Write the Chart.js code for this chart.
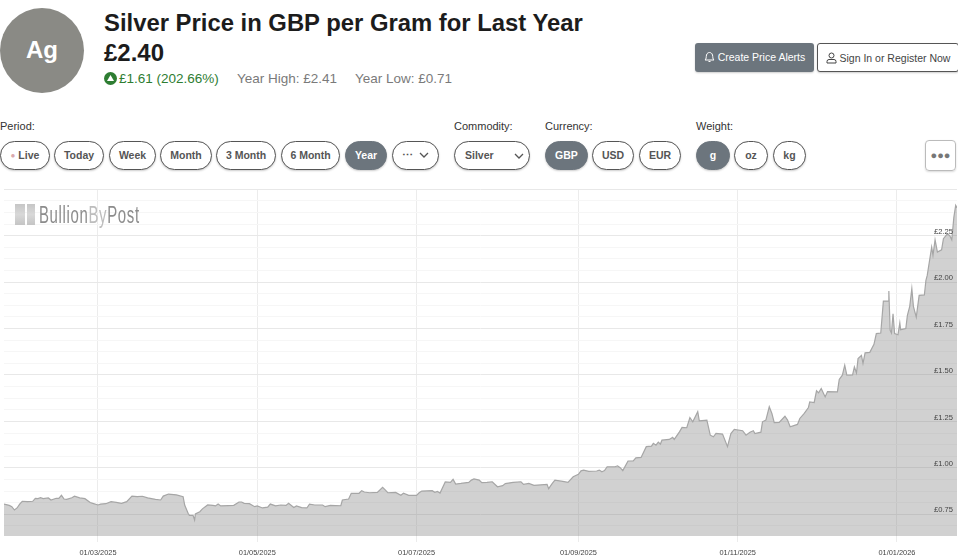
<!DOCTYPE html>
<html>
<head>
<meta charset="utf-8">
<title>Silver Price in GBP per Gram for Last Year</title>
<script src="https://cdn.jsdelivr.net/npm/chart.js@4"></script>
<style>
html, body { margin: 0; padding: 0; background: #fff; }
body { width: 958px; height: 558px; position: relative; overflow: hidden; font-family: "Liberation Sans", Arial, sans-serif; color: #212529; }
.abs { position: absolute; white-space: nowrap; }
#badge { left: 0; top: 8px; width: 84px; height: 85px; border-radius: 50%; background: #8a8a85; color: #fff; font-weight: bold; font-size: 24px; line-height: 84px; text-align: center; }
#title { left: 104px; top: 9px; font-size: 23.85px; font-weight: bold; line-height: 28px; color: #1c1c1c; }
#price { left: 104px; top: 39px; font-size: 24px; font-weight: bold; line-height: 28px; color: #1c1c1c; }
.stat { top: 70px; font-size: 13.5px; line-height: 17px; color: #7a7a7a; }
#change { left: 119px; color: #2e7d32; }
.lbl { top: 120px; font-size: 11px; line-height: 13px; color: #333; }
.pill { top: 141px; height: 27px; line-height: 27px; border: 1px solid #555; border-radius: 15px; box-sizing: content-box; font-size: 10.5px; font-weight: bold; color: #555; text-align: center; background: #fff; box-shadow: 0 1px 2px rgba(0,0,0,.2); }
.pill.on { background: #6c757d; border-color: #6c757d; color: #fff; }
.btn { top: 43px; height: 28px; line-height: 28px; border-radius: 3px; font-size: 10.5px; text-align: center; box-shadow: 0 1px 2px rgba(0,0,0,.2); }
#alerts { left: 695px; width: 119px; background: #6c757d; color: #fff; height: 29px; }
#signin { left: 817px; width: 142px; box-sizing: border-box; height: 29px; border: 1px solid #555; background: #fff; color: #444; }
#dots { left: 925px; top: 140px; width: 29px; height: 29px; border: 1px solid #bbb; border-radius: 4px; color: #777; font-size: 11px; line-height: 29px; text-align: center; font-weight: bold; box-shadow: 0 1px 2px rgba(0,0,0,.15); }
svg { vertical-align: -2px; }
#chartBox { left: 0; top: 185px; width: 958px; height: 373px; }
#mark { left: 39px; top: 201px; font-size: 23px; line-height: 28px; letter-spacing: 1px; color: #8c8c8c; z-index: 2; transform: scaleX(0.65); transform-origin: left center; }
#mark span { color: #bdbdbd; }
.bar { top: 204px; height: 21px; background: linear-gradient(#c6c6c6, #d8d8d8 50%, #c4c4c4); z-index: 2; }
</style>
</head>
<body>
<div class="abs" id="badge">Ag</div>
<div class="abs" id="title">Silver Price in GBP per Gram for Last Year</div>
<div class="abs" id="price">£2.40</div>
<svg class="abs" style="left:104px;top:72px" width="13" height="13" viewBox="0 0 13 13"><circle cx="6.5" cy="6.5" r="6.5" fill="#2e7d32"/><path d="M6.5 3 L10 9 L3 9 Z" fill="#fff"/></svg>
<div class="abs stat" id="change">£1.61 (202.66%)</div>
<div class="abs stat" style="left:237px">Year High: £2.41</div>
<div class="abs stat" style="left:355px">Year Low: £0.71</div>

<div class="abs btn" id="alerts"><svg width="11" height="12" viewBox="0 0 11 12" fill="none" stroke="#fff"><path d="M1 9 C2.5 8 2 6 2.5 4 C3 2 4.5 1.5 5.5 1.5 C6.5 1.5 8 2 8.5 4 C9 6 8.5 8 10 9 Z M4.5 10.5 H6.5"/></svg> Create Price Alerts</div>
<div class="abs btn" id="signin"><svg width="11" height="12" viewBox="0 0 11 12" fill="none" stroke="#444"><circle cx="5.5" cy="3.5" r="2.5"/><path d="M1 11 V9.5 Q1 7.5 3 7.5 H8 Q10 7.5 10 9.5 V11 Z"/></svg> Sign In or Register Now</div>

<div class="abs lbl" style="left:0">Period:</div>
<div class="abs lbl" style="left:454px">Commodity:</div>
<div class="abs lbl" style="left:545px">Currency:</div>
<div class="abs lbl" style="left:696px">Weight:</div>

<div class="abs pill" style="left:0;width:48px"><span style="color:#d9a9ae;font-size:8px;vertical-align:1px">●</span> Live</div>
<div class="abs pill" style="left:54px;width:48px">Today</div>
<div class="abs pill" style="left:109px;width:45px">Week</div>
<div class="abs pill" style="left:160px;width:50px">Month</div>
<div class="abs pill" style="left:216px;width:58px">3 Month</div>
<div class="abs pill" style="left:281px;width:57px">6 Month</div>
<div class="abs pill on" style="left:345px;width:40px">Year</div>
<div class="abs pill" style="left:392px;width:45px">⋯ &nbsp;<svg width="10" height="6" viewBox="0 0 10 6" fill="none" stroke="#555" stroke-width="1.3" style="vertical-align:1px"><path d="M1 1 L5 5 L9 1"/></svg></div>
<div class="abs pill" style="left:454px;width:74px;text-align:left"><span style="margin-left:10px">Silver</span><svg width="10" height="6" viewBox="0 0 10 6" fill="none" stroke="#555" stroke-width="1.3" style="position:absolute;left:59px;top:11px"><path d="M1 1 L5 5 L9 1"/></svg></div>
<div class="abs pill on" style="left:545px;width:41px">GBP</div>
<div class="abs pill" style="left:592px;width:40px">USD</div>
<div class="abs pill" style="left:639px;width:40px">EUR</div>
<div class="abs pill on" style="left:696px;width:32px">g</div>
<div class="abs pill" style="left:734px;width:32px">oz</div>
<div class="abs pill" style="left:773px;width:31px">kg</div>
<div class="abs" id="dots">●●●</div>

<div class="abs bar" style="left:15px;width:10px"></div>
<div class="abs bar" style="left:27px;width:8px"></div>
<div class="abs" id="mark">Bullion<span>By</span>Post</div>

<div class="abs" id="chartBox"><canvas id="priceChart" width="958" height="373"></canvas></div>

<script>
// days since 24/01/2025
const priceDays = [
    0, 2, 3, 4, 5, 6, 7, 9, 11, 12,
    13, 14, 15, 17, 18, 20, 21, 22, 23, 24,
    26, 27, 29, 31, 33, 34, 36, 37, 39, 41,
    43, 45, 47, 49, 51, 53, 55, 58, 60, 61,
    63, 66, 68.6, 69.2, 70.5, 71, 72.4, 73, 73.3, 75,
    76, 78, 80, 81, 82, 83, 86, 88, 90, 91,
    92, 94, 96, 97, 99, 101, 102, 104, 106, 108,
    109, 111, 112, 114, 116, 117, 119, 122, 123, 125,
    129, 129.6, 132, 133, 136, 137, 138, 140, 143, 145,
    146, 147, 150, 152, 153, 155, 158, 159, 160, 164,
    165, 166, 167, 169, 171, 172, 173, 175, 178, 179,
    180, 182, 183, 185, 187, 189, 191, 192, 195, 198,
    199, 201, 203, 208, 208.6, 210, 211, 214, 216, 218,
    220, 221, 222, 224, 227, 228, 229, 230, 231, 234,
    235, 236, 237, 239, 241, 242, 244, 246, 248, 248.7,
    249.7, 250.6, 251.4, 252, 254.8, 256.1, 256.7, 258.7, 259.7, 261.5,
    262.7, 263.8, 265.7, 266.3, 269.2, 270.5, 271.7, 272.7, 275.2, 277.1,
    278.4, 279.7, 282.9, 284.2, 285.7, 287, 287.6, 289.9, 290.5, 291.8,
    293.1, 294.1, 295, 296.9, 299.1, 300.1, 301.1, 303.9, 304.8, 306.5,
    308.1, 308.6, 310.3, 311.2, 312, 313, 314.5, 315.4, 319.2, 319.9,
    321.1, 322, 322.8, 325, 325.7, 326.5, 327.1, 328.4, 329, 329.8,
    331.6, 333.2, 334.1, 335.8, 336.8, 338.6, 338.9, 339.4, 339.9, 340.5,
    341.1, 342.4, 343.1, 343.4, 345.4, 346, 346.9, 347.7, 348.3, 349.4,
    350.5, 352.5, 353.1, 353.6, 354.5, 355.3, 355.8, 356.6, 357.5, 359.1,
    359.8, 361.3, 362.2, 363, 363.8, 364.5, 365
];
const priceValues = [
    0.805, 0.798, 0.791, 0.773, 0.784, 0.805, 0.820, 0.818, 0.820, 0.836,
    0.834, 0.839, 0.834, 0.838, 0.827, 0.836, 0.836, 0.852, 0.832, 0.830,
    0.839, 0.847, 0.838, 0.834, 0.813, 0.809, 0.800, 0.805, 0.807, 0.818,
    0.814, 0.809, 0.818, 0.848, 0.845, 0.847, 0.838, 0.830, 0.827, 0.848,
    0.859, 0.854, 0.845, 0.800, 0.755, 0.744, 0.744, 0.719, 0.752, 0.764,
    0.779, 0.800, 0.798, 0.795, 0.805, 0.795, 0.797, 0.798, 0.816, 0.816,
    0.809, 0.807, 0.791, 0.795, 0.784, 0.788, 0.805, 0.795, 0.800, 0.798,
    0.809, 0.786, 0.795, 0.786, 0.784, 0.805, 0.800, 0.800, 0.791, 0.798,
    0.796, 0.827, 0.832, 0.863, 0.863, 0.877, 0.870, 0.866, 0.868, 0.895,
    0.881, 0.866, 0.868, 0.852, 0.863, 0.852, 0.852, 0.866, 0.875, 0.877,
    0.868, 0.873, 0.864, 0.924, 0.922, 0.938, 0.913, 0.916, 0.922, 0.934,
    0.940, 0.934, 0.920, 0.922, 0.925, 0.898, 0.904, 0.915, 0.922, 0.925,
    0.911, 0.916, 0.906, 0.911, 0.888, 0.916, 0.934, 0.927, 0.922, 0.952,
    0.965, 0.984, 0.988, 0.981, 0.983, 0.988, 0.979, 0.985, 1.006, 1.006,
    1.011, 1.001, 0.985, 1.037, 1.038, 1.054, 1.056, 1.114, 1.117, 1.132,
    1.122, 1.139, 1.128, 1.149, 1.153, 1.164, 1.153, 1.194, 1.218, 1.216,
    1.271, 1.248, 1.302, 1.253, 1.257, 1.176, 1.167, 1.185, 1.182, 1.114,
    1.185, 1.207, 1.200, 1.176, 1.192, 1.200, 1.185, 1.192, 1.248, 1.257,
    1.329, 1.293, 1.244, 1.245, 1.278, 1.257, 1.221, 1.234, 1.266, 1.293,
    1.325, 1.355, 1.352, 1.415, 1.404, 1.427, 1.382, 1.411, 1.409, 1.476,
    1.499, 1.553, 1.499, 1.501, 1.544, 1.511, 1.588, 1.605, 1.562, 1.619,
    1.622, 1.665, 1.723, 1.726, 1.898, 1.898, 1.952, 1.741, 1.726, 1.830,
    1.723, 1.717, 1.780, 1.744, 1.750, 1.821, 1.870, 1.965, 1.870, 1.812,
    1.929, 1.931, 2.010, 2.036, 2.117, 2.189, 2.144, 2.228, 2.162, 2.174,
    2.234, 2.260, 2.251, 2.228, 2.350, 2.413, 2.400
];

const xTickDays = [36, 97, 158, 220, 281, 342];
const xTickLabels = ['01/03/2025', '01/05/2025', '01/07/2025', '01/09/2025', '01/11/2025', '01/01/2026'];
const yMajorTicks = [0.75, 1, 1.25, 1.5, 1.75, 2, 2.25, 2.5];
const yMinorTicks = [0.6875, 0.8125, 0.875, 0.9375, 1.0625, 1.125, 1.1875, 1.3125, 1.375, 1.4375, 1.5625, 1.625, 1.6875, 1.8125, 1.875, 1.9375, 2.0625, 2.125, 2.1875, 2.3125, 2.375, 2.4375];
const yTickLabels = ['£0.75', '£1.00', '£1.25', '£1.50', '£1.75', '£2.00', '£2.25', ''];

new Chart(document.getElementById('priceChart').getContext('2d'), {
    type: 'line',
    data: {
        datasets: [{
            data: priceDays.map((d, i) => ({ x: d, y: priceValues[i] })),
            borderColor: '#a6a6a6',
            borderWidth: 1.2,
            backgroundColor: 'rgba(128, 128, 128, 0.36)',
            fill: 'start',
            pointRadius: 0,
            tension: 0
        }]
    },
    options: {
        responsive: false,
        animation: false,
        devicePixelRatio: 1,
        layout: { padding: { left: 4, right: 1, top: 4.3, bottom: 0 } },
        plugins: { legend: { display: false }, tooltip: { enabled: false } },
        scales: {
            x: {
                type: 'linear',
                min: 0,
                max: 365,
                border: { display: false },
                grid: { color: '#ececec', lineWidth: 1, tickLength: 6 },
                afterBuildTicks: scale => { scale.ticks = xTickDays.map(v => ({ value: v })); },
                afterFit: scale => { scale.height = 22; },
                ticks: {
                    autoSkip: false,
                    maxRotation: 0,
                    padding: 7,
                    color: '#444',
                    font: { family: '"Liberation Sans"', size: 7.4 },
                    callback: (value, index) => xTickLabels[index]
                }
            },
            y: {
                type: 'linear',
                position: 'right',
                min: 0.633,
                max: 2.5,
                border: { display: false },
                grid: {
                    drawTicks: false,
                    lineWidth: 1,
                    color: ctx => yMajorTicks.includes(ctx.tick.value) ? '#e8e8e8' : '#f6f6f6'
                },
                afterBuildTicks: scale => {
                    scale.ticks = yMajorTicks.concat(yMinorTicks).sort((a, b) => a - b).map(v => ({ value: v }));
                },
                afterFit: scale => {
                    scale.width = 0;
                    scale.paddingTop = 0;
                    scale.paddingBottom = 0;
                },
                ticks: {
                    autoSkip: false,
                    mirror: true,
                    z: 1,
                    padding: -4,
                    labelOffset: -4,
                    color: '#444',
                    font: { family: '"Liberation Sans"', size: 7.6 },
                    callback: value => {
                        const i = yMajorTicks.indexOf(value);
                        return i >= 0 ? yTickLabels[i] : '';
                    }
                }
            }
        }
    }
});
</script>
</body>
</html>
